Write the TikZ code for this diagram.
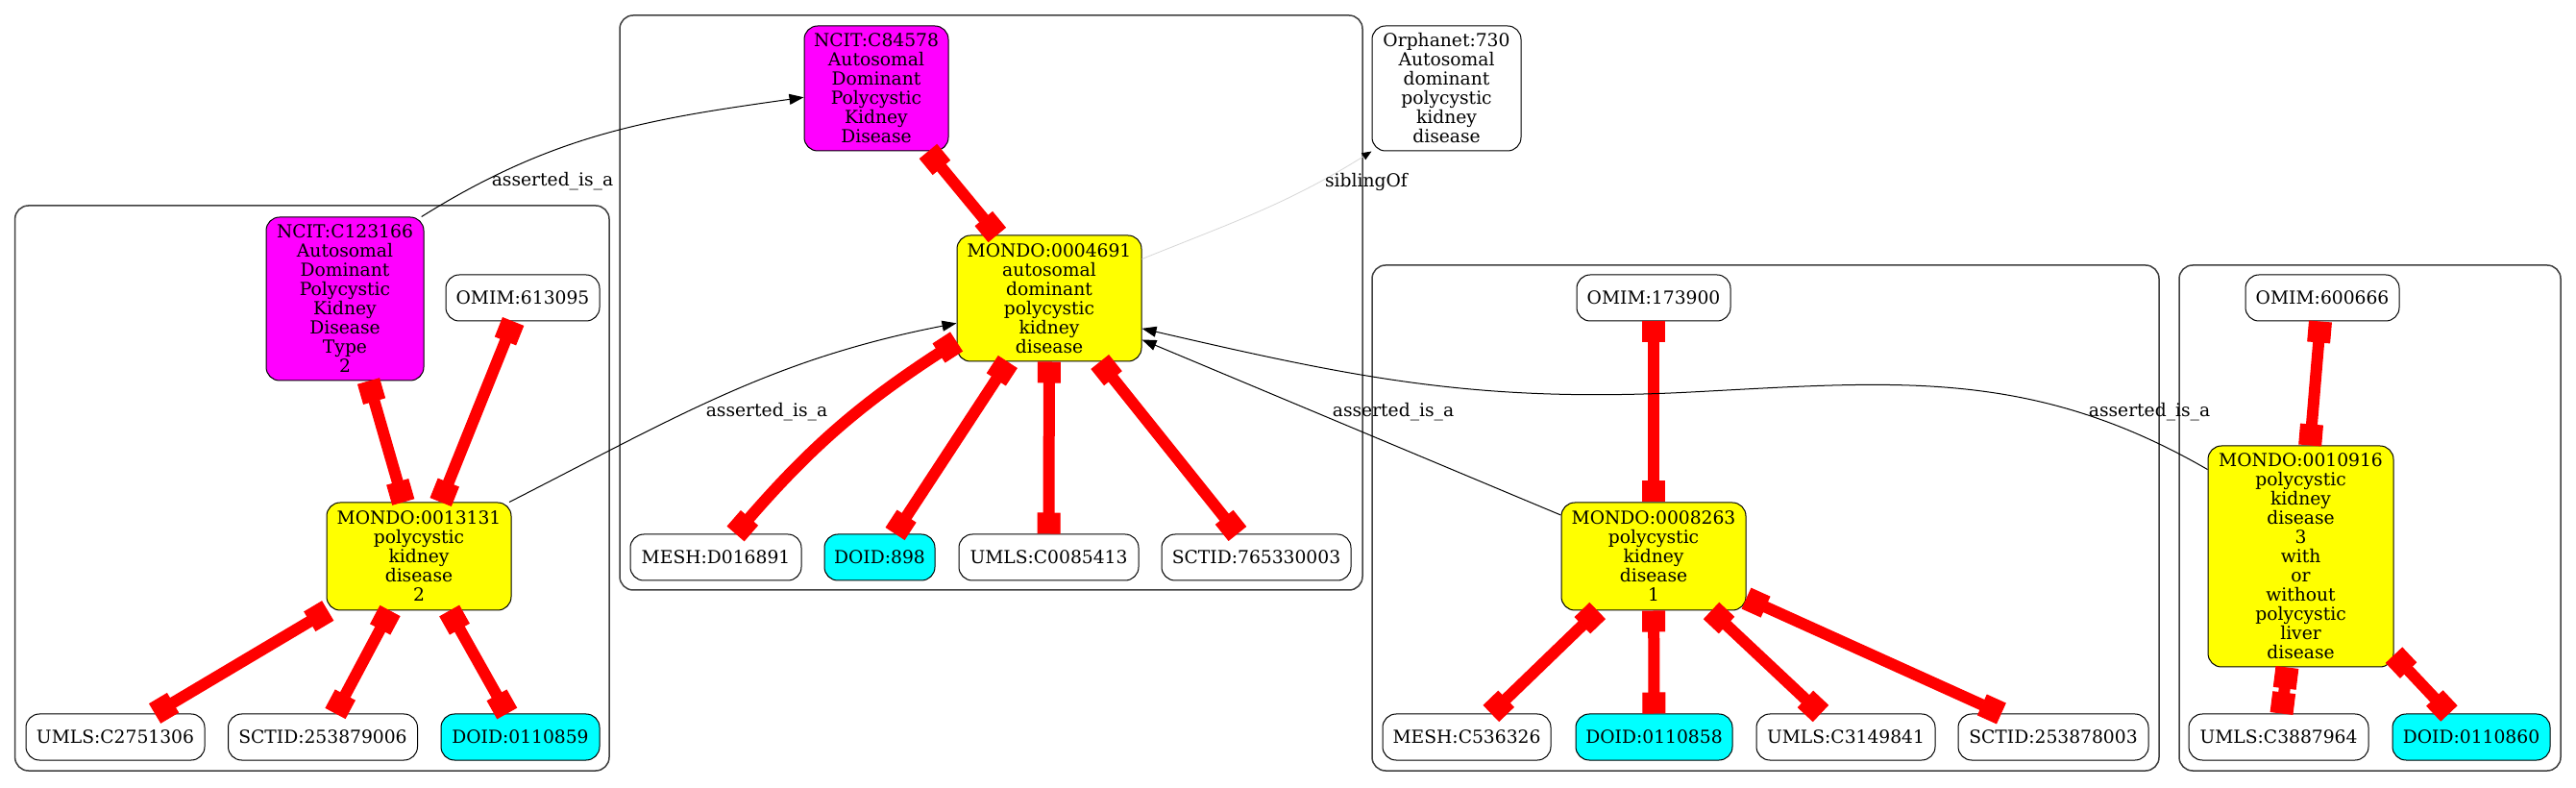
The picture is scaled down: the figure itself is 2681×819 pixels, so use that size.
\documentclass[tikz,border=0pt]{standalone}
\usepackage{fontspec}
\setmainfont{DejaVu Serif}
\usetikzlibrary{arrows.meta}
\definecolor{gvmag}{RGB}{255,0,255}
\definecolor{gvyel}{RGB}{255,255,0}
\definecolor{gvcya}{RGB}{0,255,255}
\definecolor{gvred}{RGB}{255,0,0}
\definecolor{gvgray}{RGB}{215,215,215}
\begin{document}
\begin{tikzpicture}[x=1pt,y=1pt,
  every node/.style={font=\fontsize{18.7}{20}\selectfont},
  gnode/.style={draw=black, line width=1pt, rounded corners=14pt, align=center, inner sep=0pt},
  plainbox/.style={gnode, fill=white},
  magbox/.style={gnode, fill=gvmag},
  yelbox/.style={gnode, fill=gvyel},
  cyabox/.style={gnode, fill=gvcya},
  xref/.style={draw=gvred, line width=12pt,
    {Square[length=22pt,width=24pt,line width=1pt]}-{Square[length=22pt,width=24pt,line width=1pt]}},
  isa/.style={draw=black, line width=1pt, -{Triangle[length=15pt,width=11pt]}},
  sib/.style={draw=gvgray, line width=0.8pt, -{Triangle[length=10pt,width=8pt,color=black]}},
  lbl/.style={inner sep=0pt},
  cluster/.style={draw=black!75, line width=1.5pt, rounded corners=14pt}
]
\useasboundingbox[fill=white] (0,0) rectangle (2681,819);

% clusters
\draw[cluster] (15.6,17) rectangle (634,605);
\draw[cluster] (645,205) rectangle (1418,803);
\draw[cluster] (1428,17) rectangle (2247,543);
\draw[cluster] (2268,17) rectangle (2665,543);

% cluster 1
\node[magbox, minimum width=164pt, minimum height=170pt] (ncit123) at (359,508)
  {NCIT:C123166\\Autosomal\\Dominant\\Polycystic\\Kidney\\Disease\\Type\\2};
\node[plainbox, minimum width=160pt, minimum height=48pt] (omim613) at (544,509) {OMIM:613095};
\node[yelbox, minimum width=192pt, minimum height=112pt] (mondo13131) at (436,240)
  {MONDO:0013131\\polycystic\\kidney\\disease\\2};
\node[plainbox, minimum width=186pt, minimum height=48pt] (umls2751) at (120,52) {UMLS:C2751306};
\node[plainbox, minimum width=197pt, minimum height=48pt] (sctid879006) at (336,52) {SCTID:253879006};
\node[cyabox, minimum width=165pt, minimum height=48pt] (doid0110859) at (541.5,52) {DOID:0110859};

% cluster 2
\node[magbox, minimum width=150pt, minimum height=130pt] (ncit84578) at (912,727)
  {NCIT:C84578\\Autosomal\\Dominant\\Polycystic\\Kidney\\Disease};
\node[yelbox, minimum width=192pt, minimum height=131pt] (mondo4691) at (1092,508.5)
  {MONDO:0004691\\autosomal\\dominant\\polycystic\\kidney\\disease};
\node[plainbox, minimum width=178pt, minimum height=48pt] (meshD016891) at (745,239) {MESH:D016891};
\node[cyabox, minimum width=115pt, minimum height=48pt] (doid898) at (915.5,239) {DOID:898};
\node[plainbox, minimum width=187pt, minimum height=48pt] (umlsC0085413) at (1091.5,239) {UMLS:C0085413};
\node[plainbox, minimum width=197pt, minimum height=48pt] (sctid765330003) at (1307.5,239) {SCTID:765330003};

% orphanet
\node[plainbox, minimum width=155pt, minimum height=130pt] (orphanet730) at (1505.5,727)
  {Orphanet:730\\Autosomal\\dominant\\polycystic\\kidney\\disease};

% cluster 3
\node[plainbox, minimum width=160pt, minimum height=48pt] (omim173900) at (1721,509) {OMIM:173900};
\node[yelbox, minimum width=192pt, minimum height=112pt] (mondo8263) at (1721,240)
  {MONDO:0008263\\polycystic\\kidney\\disease\\1};
\node[plainbox, minimum width=175pt, minimum height=48pt] (meshC536326) at (1526.5,52) {MESH:C536326};
\node[cyabox, minimum width=163pt, minimum height=48pt] (doid0110858) at (1721.5,52) {DOID:0110858};
\node[plainbox, minimum width=186pt, minimum height=48pt] (umlsC3149841) at (1921,52) {UMLS:C3149841};
\node[plainbox, minimum width=198pt, minimum height=48pt] (sctid253878003) at (2137,52) {SCTID:253878003};

% cluster 4
\node[plainbox, minimum width=160pt, minimum height=48pt] (omim600666) at (2417,509) {OMIM:600666};
\node[yelbox, minimum width=193pt, minimum height=230pt] (mondo10916) at (2394.5,240)
  {MONDO:0010916\\polycystic\\kidney\\disease\\3\\with\\or\\without\\polycystic\\liver\\disease};
\node[plainbox, minimum width=187pt, minimum height=48pt] (umlsC3887964) at (2371.5,52) {UMLS:C3887964};
\node[cyabox, minimum width=164pt, minimum height=48pt] (doid0110860) at (2572,52) {DOID:0110860};

% red cross-reference edges
\draw[xref] (ncit123) -- (mondo13131);
\draw[xref] (omim613) -- (mondo13131);
\draw[xref] (mondo13131) -- (umls2751);
\draw[xref] (mondo13131) -- (sctid879006);
\draw[xref] (mondo13131) -- (doid0110859);
\draw[xref] (ncit84578) -- (mondo4691);
\draw[xref] (mondo4691.205) to[bend right=8] (meshD016891.50);
\draw[xref] (mondo4691) -- (doid898);
\draw[xref] (mondo4691) -- (umlsC0085413);
\draw[xref] (mondo4691) -- (sctid765330003);
\draw[xref] (omim173900) -- (mondo8263);
\draw[xref] (mondo8263) -- (meshC536326);
\draw[xref] (mondo8263) -- (doid0110858);
\draw[xref] (mondo8263) -- (umlsC3149841);
\draw[xref] (mondo8263) -- (sctid253878003);
\draw[xref] (omim600666) -- (mondo10916);
\draw[xref] (mondo10916) -- (umlsC3887964);
\draw[xref] (mondo10916) -- (doid0110860);

% black is_a edges
\coordinate (w1) at (1760,411);
\draw[isa] (ncit123.47) to[out=32,in=188] (ncit84578.187);
\draw[isa] (mondo13131.31) to[out=27,in=191] (mondo4691.195);
\draw[isa] (mondo8263.156) -- (mondo4691.336);
\draw[isa] (mondo10916.137) to[out=150,in=3] (w1) to[out=183,in=-13] (mondo4691.342);
\draw[sib] (mondo4691.23) to[out=22,in=212] (orphanet730.south west);

% labels
\node[lbl] (l1) at (575,630) {asserted\_is\_a};
\node[lbl] (l2) at (798,390) {asserted\_is\_a};
\node[lbl] (l3) at (1450,390) {asserted\_is\_a};
\node[lbl] (l4) at (2237,390) {asserted\_is\_a};
\node[lbl] (l5) at (1422,630) {siblingOf};
\end{tikzpicture}
\end{document}
